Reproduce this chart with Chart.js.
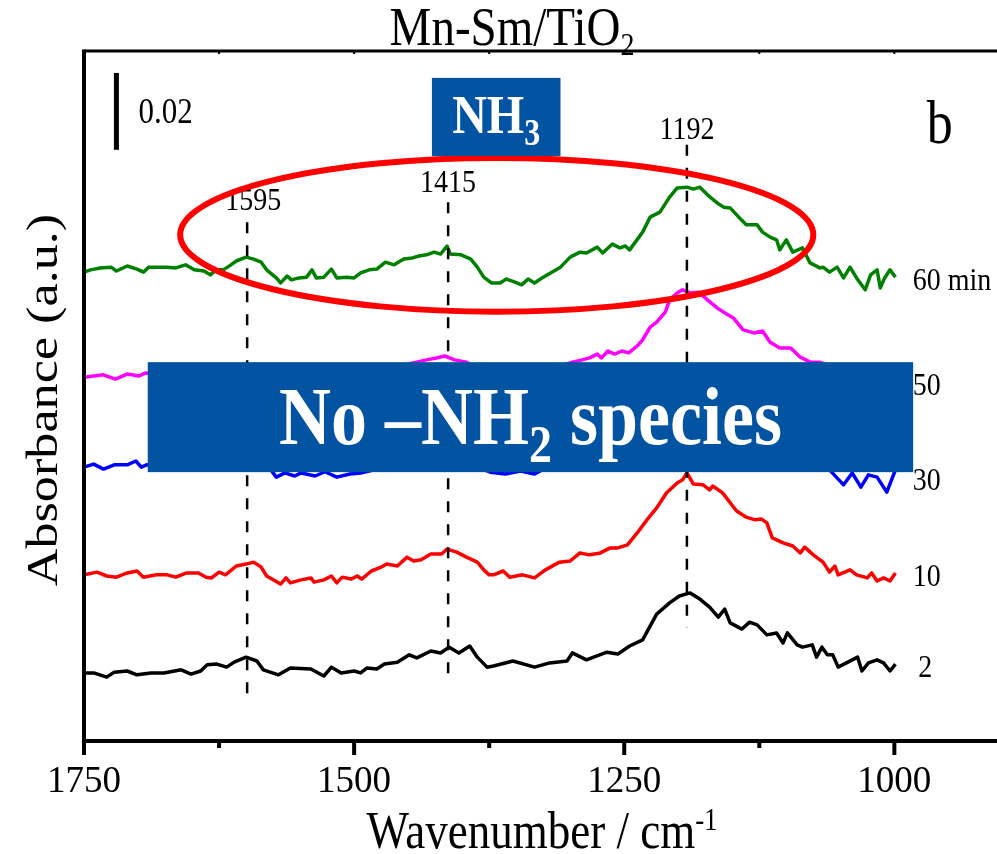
<!DOCTYPE html>
<html><head><meta charset="utf-8">
<script src="https://cdn.jsdelivr.net/npm/chart.js@4"></script>
<style>html,body{margin:0;padding:0;background:#fff;overflow:hidden}canvas{display:block}</style>
</head><body>
<canvas id="c" width="997" height="854"></canvas>
<script>
// ---------- DATA (wavenumber / cm-1 and absorbance x1000) ----------
const wn2=[1750,1741,1729,1722,1710,1701,1688,1676,1660,1651,1642,1636,1627,1618,1611,1600,1590,1584,1570,1559,1540,1528,1521,1512,1500,1494,1488,1479,1472,1460,1449,1442,1429,1420,1412,1403,1393,1386,1377,1371,1353,1333,1319,1303,1298,1285,1266,1256,1245,1233,1220,1208,1199,1189,1180,1171,1163,1157,1152,1141,1134,1127,1118,1109,1103,1099,1090,1085,1076,1072,1067,1062,1057,1052,1043,1034,1030,1024,1016,1010,1004,999];
const abs2=[17.7,17.7,16.6,17.9,18.2,17.2,17.7,17.7,18.5,17.4,18.2,19.8,20.0,19.2,20.5,21.8,20.8,18.5,17.2,19.0,18.7,16.9,19.2,17.7,18.2,17.7,19.0,18.7,20.0,20.5,22.4,21.6,23.4,22.9,24.4,22.9,24.7,21.8,19.2,19.5,20.8,19.2,20.3,20.8,22.9,21.1,23.1,22.6,24.7,26.3,33.0,35.9,37.7,38.5,36.9,34.8,32.2,34.3,30.7,29.1,30.9,30.2,27.6,28.1,25.5,28.1,25.0,24.4,25.0,21.8,24.4,22.4,22.4,19.2,20.5,21.8,18.2,20.3,21.1,20.3,18.2,20.0];

const wn10=[1750,1738,1729,1720,1710,1701,1695,1683,1673,1665,1655,1644,1637,1632,1625,1619,1609,1600,1593,1586,1581,1568,1563,1559,1549,1540,1537,1528,1521,1516,1511,1503,1497,1493,1484,1475,1470,1460,1451,1445,1438,1429,1419,1414,1405,1396,1386,1380,1375,1371,1362,1356,1344,1333,1323,1310,1300,1291,1282,1272,1263,1256,1247,1238,1229,1220,1211,1201,1196,1192,1186,1177,1171,1168,1159,1146,1137,1129,1123,1118,1113,1103,1094,1087,1083,1075,1066,1060,1055,1052,1041,1035,1025,1021,1016,1010,1004,999];
const abs10=[43.2,43.9,42.9,42.6,43.7,44.2,42.6,43.2,43.2,42.6,43.7,43.7,42.6,42.4,43.9,43.2,45.5,46.0,46.5,45.2,42.9,40.8,42.4,41.1,41.9,42.4,41.3,41.9,42.9,41.1,42.6,42.1,42.9,42.1,44.2,45.2,46.0,45.5,47.8,46.8,47.1,48.6,48.6,49.9,49.1,47.8,46.5,44.5,43.2,43.2,44.2,42.6,43.2,42.4,44.5,46.5,46.8,48.9,48.4,48.9,50.2,50.2,51.0,54.1,57.5,60.6,64.5,67.1,67.9,69.7,66.8,66.6,65.3,66.3,64.5,59.8,58.2,57.5,57.7,56.7,52.8,51.5,50.7,48.9,50.4,48.4,46.5,43.9,45.5,43.2,44.5,43.2,42.4,43.7,41.6,42.4,41.6,43.7];

const wn30=[1750,1741,1732,1722,1710,1702,1697,1692,1670,1642,1633,1611,1599,1577,1572,1564,1555,1549,1536,1527,1516,1504,1494,1467,1439,1416,1393,1374,1360,1346,1333,1300,1254,1226,1208,1191,1161,1125,1087,1060,1047,1039,1031,1024,1016,1007,999];
const abs30=[71.2,72.0,70.7,71.8,71.8,72.8,71.2,71.8,71.5,70.5,71.0,72.0,72.5,70.5,68.6,69.7,68.9,69.7,68.9,70.0,68.6,69.4,69.7,71.5,72.5,73.6,72.0,69.9,69.4,70.2,69.4,74.4,77.0,86.1,92.6,95.9,91.0,84.8,78.3,70.5,66.6,69.7,66.0,69.2,68.6,64.7,70.5];

const wn50=[1750,1732,1721,1710,1699,1693,1670,1643,1615,1600,1583,1560,1523,1485,1458,1433,1424,1416,1407,1396,1384,1365,1337,1314,1298,1289,1282,1275,1271,1265,1259,1252,1246,1238,1233,1226,1220,1212,1208,1201,1196,1189,1181,1173,1164,1158,1149,1140,1130,1122,1115,1106,1096,1087,1078,1069,1050,1032,1013,999];
const abs50=[94.6,95.2,94.1,95.4,94.9,95.7,94.9,95.2,96.5,97.5,95.4,93.9,94.4,95.9,97.5,99.1,99.6,100.1,99.1,98.5,96.5,94.9,94.9,97.0,98.5,99.1,99.6,100.6,99.6,101.4,100.6,101.4,100.9,102.7,104.3,107.6,108.9,111.5,114.7,116.5,117.3,116.5,116.7,114.7,112.6,111.5,110.0,106.9,106.1,106.6,103.7,102.2,102.2,99.8,98.5,98.5,96.5,95.9,94.9,95.4];

const wn60=[1750,1744,1735,1725,1720,1710,1701,1695,1690,1683,1673,1665,1656,1648,1639,1633,1628,1621,1614,1609,1600,1593,1586,1581,1572,1568,1562,1558,1551,1544,1539,1535,1528,1521,1516,1507,1500,1494,1486,1479,1471,1463,1454,1446,1440,1433,1426,1420,1414,1411,1401,1392,1386,1380,1373,1365,1359,1351,1345,1339,1333,1325,1317,1309,1300,1291,1285,1275,1270,1261,1254,1249,1245,1233,1226,1217,1208,1201,1192,1186,1180,1173,1164,1158,1152,1144,1137,1127,1122,1115,1109,1106,1100,1094,1085,1078,1069,1066,1060,1053,1047,1041,1035,1027,1022,1016,1013,1009,1004,999];
const abs60=[121.9,122.5,123.0,123.2,122.2,123.5,122.7,121.9,123.2,123.2,123.2,123.0,123.8,122.5,122.2,121.2,122.5,122.5,123.8,124.8,125.8,125.3,124.5,122.5,120.4,119.1,120.9,119.9,120.4,120.6,122.5,120.4,120.6,122.7,120.4,120.6,120.4,121.7,122.5,122.7,124.5,123.8,125.3,125.6,126.1,126.4,127.1,126.6,128.7,126.6,126.4,125.3,123.2,120.6,119.1,119.1,120.1,119.3,118.6,120.1,119.1,120.6,121.9,123.2,125.8,127.1,126.9,128.4,126.9,129.2,128.2,128.7,127.7,132.3,136.2,137.5,141.4,143.8,144.0,143.5,144.0,142.0,139.9,138.8,138.6,136.2,134.2,134.2,132.3,131.0,130.3,127.7,130.3,127.1,128.2,124.3,123.0,123.2,121.9,123.2,120.4,123.2,120.4,117.3,121.2,122.5,117.8,120.4,122.5,120.6];

const seriesLabels=['2','10','30','50','60 min'];
const xTickValues=[1750,1500,1250,1000];
const xMinorTickValues=[1625,1375,1125];
const peakPositions=[1599,1413,1192];
const peakLabels=['1595','1415','1192'];
const scaleBarValue=20;            // 0.02 absorbance, in x1000 units
const scaleBarLabel='0.02';

// ---------- LAYOUT / STYLE (annotation placement in data units) ----------
const FONT="'Liberation Serif','Times New Roman',serif";
const SY=1.16; // vertical stretch of the lettering in the reference
const colors=['#000000','#ff0000','#0000ff','#ff00ff','#008000'];
const seriesLabelPos=[{x:978,y:16.6},{x:983,y:40.3},{x:983,y:65.3},{x:983,y:90.0},{x:983,y:117.3}];
const peakLineSpan=[{top:134.9,bottom:10.7,labelY:138.1,dx:6},{top:140.1,bottom:15.9,labelY:142.7,dx:0},{top:155.0,bottom:29.4,labelY:156.5,dx:0}];
const scaleBarPos={x:1720,y0:153.7};
const ellipsePos={cx:1368,cy:131.6,hw:293,hh:20.0};
const nh3Box={x0:1428,x1:1309,y0:152.1,y1:172.4};
const bigBox={x0:1691,x1:982.6,y0:69.9,y1:98.5};
const BOXCOLOR='#0254a3';

function pts(w,a){const n=Math.min(w.length,a.length),r=[];for(let i=0;i<n;i++)r.push({x:w[i],y:a[i]});return r;}
const allWn=[wn2,wn10,wn30,wn50,wn60], allAbs=[abs2,abs10,abs30,abs50,abs60];

function drawRich(ctx,parts,x,y,align){
  let w=0;
  parts.forEach(p=>{ctx.font=p.font;p.w=ctx.measureText(p.t).width;w+=p.w;});
  let cx=align==='center'?-w/2:(align==='right'?-w:0);
  ctx.save();ctx.translate(x,y);ctx.scale(1,SY);
  ctx.textAlign='left';ctx.textBaseline='alphabetic';
  parts.forEach(p=>{ctx.font=p.font;ctx.fillText(p.t,cx,(p.dy||0)/SY);cx+=p.w;});
  ctx.restore();
}

const overlay={
  id:'overlay',
  afterDatasetsDraw(chart){
    const ctx=chart.ctx,X=chart.scales.x,Y=chart.scales.y;
    const px=v=>X.getPixelForValue(v),py=v=>Y.getPixelForValue(v);
    ctx.save();
    // dashed peak lines
    ctx.strokeStyle='#000';ctx.lineWidth=2.5;ctx.setLineDash([11,12]);
    peakPositions.forEach((p,i)=>{const s=peakLineSpan[i];ctx.beginPath();ctx.moveTo(px(p),py(s.top));ctx.lineTo(px(p),py(s.bottom));ctx.stroke();});
    ctx.setLineDash([]);
    ctx.fillStyle='#000';
    peakPositions.forEach((p,i)=>{const s=peakLineSpan[i];drawRich(ctx,[{t:peakLabels[i],font:`28px ${FONT}`}],px(p)+s.dx,py(s.labelY),'center');});
    // red ellipse
    const cx=px(ellipsePos.cx),cy=py(ellipsePos.cy);
    const rx=Math.abs(px(ellipsePos.cx+ellipsePos.hw)-cx),ry=Math.abs(py(ellipsePos.cy+ellipsePos.hh)-cy);
    ctx.strokeStyle='#ff0000';ctx.lineWidth=6;ctx.beginPath();ctx.ellipse(cx,cy,rx,ry,0,0,Math.PI*2);ctx.stroke();
    // NH3 box
    ctx.fillStyle=BOXCOLOR;
    let bx0=px(nh3Box.x0),bx1=px(nh3Box.x1),by0=py(nh3Box.y1),by1=py(nh3Box.y0);
    ctx.fillRect(bx0,by0,bx1-bx0,by1-by0);
    ctx.fillStyle='#fff';
    drawRich(ctx,[{t:'NH',font:`bold 48px ${FONT}`},{t:'3',font:`bold 32px ${FONT}`,dy:12}],(bx0+bx1)/2,(by0+by1)/2+16,'center');
    // big box
    ctx.fillStyle=BOXCOLOR;
    bx0=px(bigBox.x0);bx1=px(bigBox.x1);by0=py(bigBox.y1);by1=py(bigBox.y0);
    ctx.fillRect(bx0,by0,bx1-bx0,by1-by0);
    ctx.fillStyle='#fff';
    drawRich(ctx,[{t:'No \u2013NH',font:`bold 72px ${FONT}`},{t:'2',font:`bold 46px ${FONT}`,dy:18},{t:' species',font:`bold 72px ${FONT}`}],(bx0+bx1)/2,(by0+by1)/2+27,'center');
    // scale bar
    ctx.strokeStyle='#000';ctx.lineWidth=5;ctx.beginPath();
    ctx.moveTo(px(scaleBarPos.x),py(scaleBarPos.y0));ctx.lineTo(px(scaleBarPos.x),py(scaleBarPos.y0+scaleBarValue));ctx.stroke();
    ctx.fillStyle='#000';
    drawRich(ctx,[{t:scaleBarLabel,font:`31px ${FONT}`}],px(scaleBarPos.x)+22,py(scaleBarPos.y0+scaleBarValue/2)+12,'left');
    // panel letter
    drawRich(ctx,[{t:'b',font:`52px ${FONT}`}],px(970),py(155.5),'left');
    // series labels
    seriesLabels.forEach((s,i)=>drawRich(ctx,[{t:s,font:`28px ${FONT}`}],px(seriesLabelPos[i].x),py(seriesLabelPos[i].y),'left'));
    ctx.restore();
  },
  afterDraw(chart){
    const ctx=chart.ctx,X=chart.scales.x,a=chart.chartArea;
    ctx.save();
    ctx.strokeStyle='#000';ctx.fillStyle='#000';
    // frame
    ctx.lineWidth=3;ctx.beginPath();ctx.moveTo(a.left,a.top);ctx.lineTo(a.right,a.top);ctx.stroke();
    ctx.lineWidth=4;ctx.beginPath();ctx.moveTo(a.left-2,a.bottom);ctx.lineTo(a.right,a.bottom);ctx.stroke();
    ctx.beginPath();ctx.moveTo(a.left,a.top-1.5);ctx.lineTo(a.left,a.bottom+2);ctx.stroke();
    // ticks
    xTickValues.forEach(v=>{const x=X.getPixelForValue(v);ctx.beginPath();ctx.moveTo(x,a.bottom);ctx.lineTo(x,a.bottom+14);ctx.stroke();});
    xMinorTickValues.forEach(v=>{const x=X.getPixelForValue(v);ctx.beginPath();ctx.moveTo(x,a.bottom);ctx.lineTo(x,a.bottom+7);ctx.stroke();});
    ctx.lineWidth=2;
    xTickValues.concat(xMinorTickValues).forEach(v=>{const x=X.getPixelForValue(v);if(v<1750){ctx.beginPath();ctx.moveTo(x,a.top);ctx.lineTo(x,a.top+3);ctx.stroke();}});
    // chart title
    drawRich(ctx,[{t:'Mn-Sm/TiO',font:`47px ${FONT}`},{t:'2',font:`28px ${FONT}`,dy:10}],512,45,'center');
    // x axis title
    drawRich(ctx,[{t:'Wavenumber / cm',font:`45px ${FONT}`},{t:'-1',font:`27px ${FONT}`,dy:-18}],542,848,'center');
    // y axis title
    ctx.translate(57,400);ctx.rotate(-Math.PI/2);ctx.scale(SY,1);
    ctx.font=`45px ${FONT}`;ctx.textAlign='center';ctx.textBaseline='alphabetic';
    ctx.fillText('Absorbance (a.u.)',0,0);
    ctx.restore();
  }
};

new Chart(document.getElementById('c'),{
  type:'line',
  data:{datasets:allWn.map((w,i)=>({label:seriesLabels[i],data:pts(w,allAbs[i]),borderColor:colors[i],backgroundColor:colors[i],borderWidth:3.5,pointRadius:0,tension:0,fill:false,borderJoinStyle:'round'}))},
  options:{
    responsive:false,animation:false,devicePixelRatio:1,
    layout:{padding:{left:84,top:51,right:0,bottom:0}},
    plugins:{legend:{display:false},tooltip:{enabled:false},title:{display:false}},
    scales:{
      x:{type:'linear',reverse:true,min:905,max:1750,
        afterBuildTicks:s=>{s.ticks=xTickValues.map(v=>({value:v}));},
        afterFit:s=>{s.height=113;},
        grid:{display:false,drawTicks:false},
        border:{display:false},
        ticks:{padding:19,color:'#000',font:{family:FONT,size:37},maxRotation:0,autoSkip:false,callback:v=>String(v)}},
      y:{type:'linear',display:false,min:0,max:179.4}
    }
  },
  plugins:[overlay]
});
</script>
</body></html>
